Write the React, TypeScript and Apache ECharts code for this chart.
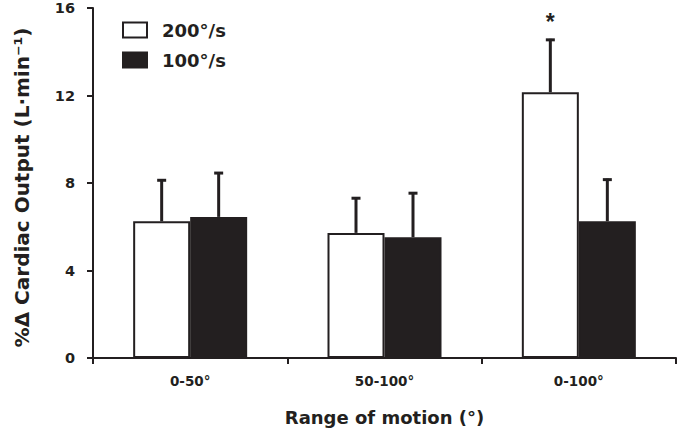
import React, { useEffect, useRef } from "react";
import * as echarts from "echarts";

const categories = ["0-50°", "50-100°", "0-100°"];
const seriesNames = ["200°/s", "100°/s"];
const mean200 = [6.25, 5.72, 12.15];
const err200 = [8.17, 7.35, 14.59];
const mean100 = [6.45, 5.52, 6.25];
const err100 = [8.5, 7.58, 8.2];
const sig200 = [0, 0, 1];
const sig100 = [0, 0, 0];
const yTicks = { min: 0, max: 16, interval: 4 };

const INK = "#231f20";
const BAR_W = 57;
const FONT = "'DejaVu Sans', 'Liberation Sans', Arial, sans-serif";

function errorSeries(means: number[], uppers: number[], sigs: number[], offset: number) {
  return {
    type: "custom",
    z: 5,
    silent: true,
    data: means.map((m, i) => [i, m, uppers[i], sigs[i]]),
    encode: { x: 0, y: 2 },
    renderItem: (params: any, api: any) => {
      const ci = api.value(0);
      const m = api.value(1);
      const u = api.value(2);
      const s = api.value(3);
      const b = api.coord([ci, m]);
      const t = api.coord([ci, u]);
      const x = b[0] + offset;
      const children: any[] = [
        {
          type: "line",
          shape: { x1: x, y1: b[1], x2: x, y2: t[1] },
          style: { stroke: INK, lineWidth: 3 },
        },
        {
          type: "line",
          shape: { x1: x - 4.5, y1: t[1] + 1, x2: x + 4.5, y2: t[1] + 1 },
          style: { stroke: INK, lineWidth: 3 },
        },
      ];
      if (s) {
        children.push({
          type: "text",
          style: {
            text: "*",
            x: x,
            y: t[1] - 17,
            align: "center",
            verticalAlign: "middle",
            fill: INK,
            font: "bold 23px 'Liberation Sans', Arial, sans-serif",
          },
        });
      }
      return { type: "group", children };
    },
  };
}

export default function App() {
  const ref = useRef<HTMLDivElement>(null);
  useEffect(() => {
    const chart = echarts.init(ref.current!, null, { renderer: "svg" });
    chart.setOption({
      animation: false,
      textStyle: { fontFamily: FONT, color: INK },
      grid: { left: 93, right: 2, top: 8, bottom: 74, containLabel: false },
      legend: {
        data: seriesNames,
        orient: "vertical",
        left: 117,
        top: 16,
        icon: "rect",
        itemWidth: 24,
        itemHeight: 15,
        itemGap: 12,
        textStyle: {
          fontFamily: FONT,
          fontWeight: "bold",
          fontSize: 18,
          color: INK,
          padding: [0, 0, 0, 10],
          lineHeight: 17,
        },
      },
      xAxis: {
        type: "category",
        data: categories,
        boundaryGap: true,
        name: "Range of motion (°)",
        nameLocation: "middle",
        nameGap: 50,
        nameTextStyle: { fontFamily: FONT, fontWeight: "bold", fontSize: 18, color: INK },
        axisLine: { show: true, lineStyle: { color: INK, width: 2 } },
        axisTick: { show: true, length: 6, lineStyle: { color: INK, width: 2 } },
        axisLabel: { fontFamily: FONT, fontWeight: "bold", fontSize: 13.5, color: INK, margin: 16 },
        splitLine: { show: false },
      },
      yAxis: {
        type: "value",
        min: yTicks.min,
        max: yTicks.max,
        interval: yTicks.interval,
        name: "%Δ Cardiac Output (L·min⁻¹)",
        nameLocation: "middle",
        nameGap: 61,
        nameTextStyle: {
          fontFamily: FONT,
          fontWeight: "bold",
          fontSize: 20,
          color: INK,
          padding: [0, 9, 0, 0],
        },
        axisLine: { show: true, lineStyle: { color: INK, width: 2 } },
        axisTick: { show: true, length: 6, lineStyle: { color: INK, width: 2 } },
        axisLabel: { fontFamily: FONT, fontWeight: "bold", fontSize: 14.5, color: INK, margin: 18 },
        splitLine: { show: false },
      },
      series: [
        {
          name: seriesNames[0],
          type: "bar",
          data: mean200,
          barWidth: BAR_W,
          barGap: "0%",
          itemStyle: { color: "#ffffff", borderColor: INK, borderWidth: 2 },
        },
        {
          name: seriesNames[1],
          type: "bar",
          data: mean100,
          barWidth: BAR_W,
          barGap: "0%",
          itemStyle: { color: INK, borderColor: INK, borderWidth: 2 },
        },
        errorSeries(mean200, err200, sig200, -BAR_W / 2),
        errorSeries(mean100, err100, sig100, BAR_W / 2),
      ],
    });
    return () => chart.dispose();
  }, []);
  return (
    <div
      ref={ref}
      style={{ position: "fixed", left: 0, top: 0, width: 678, height: 432, background: "#fff" }}
    />
  );
}
